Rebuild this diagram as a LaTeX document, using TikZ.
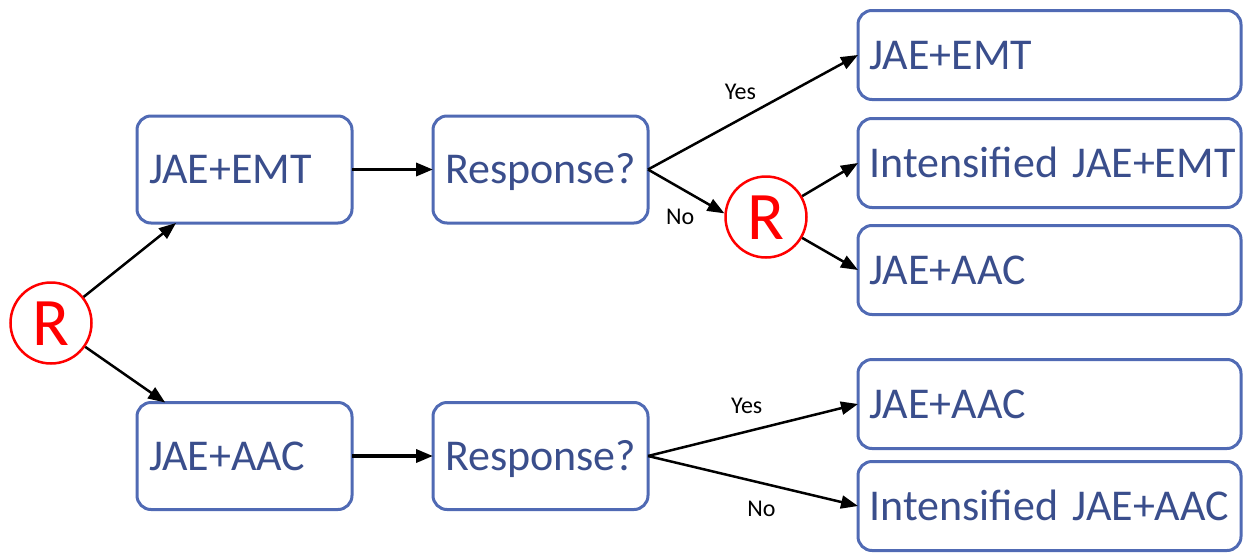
\documentclass[tikz,border=0pt]{standalone}
\usepackage{fontspec}
\setmainfont{Carlito}
\usetikzlibrary{arrows.meta,positioning}
\definecolor{boxline}{RGB}{80,106,180}
\definecolor{boxtext}{RGB}{58,78,140}
\definecolor{rand}{RGB}{255,0,0}
\hfuzz=12pt

\begin{document}
\begin{tikzpicture}[x=1pt, y=-1pt,
    arm/.style={draw=boxline, line width=3pt, rounded corners=14pt, outer sep=0pt, text=boxtext, font=\fontsize{44}{50}\selectfont, text height=28pt, text depth=0pt, inner ysep=0pt, align=left},
    stage/.style={arm, text width=191pt, inner xsep=12pt, minimum height=107pt},
    outcome/.style={arm, text width=360pt, inner xsep=11.5pt, minimum height=89pt},
    randomise/.style={circle, draw=rand, line width=2.5pt, text=rand, font=\fontsize{68}{76}\selectfont, minimum size=81pt, inner sep=0pt, text height=44pt, text depth=0pt},
    link/.style={draw, black, line width=2.5pt, -{Triangle[length=17pt,width=13pt]}},
    answer/.style={font=\fontsize{24}{28}\selectfont, inner sep=2pt}
  ]
  \useasboundingbox (0,0) rectangle (1243,552);
  \node [randomise] (r1) at (51,323) {R};
  \node [stage] (emt1) at (244.5,169.5) {JAE+EMT};
  \node [stage, right=81pt of emt1] (resp1) {Response?};
  \node [stage] (aac1) at (244.5,456) {JAE+AAC};
  \node [stage, right=81pt of aac1] (resp2) {Response?};
  \node [randomise] (r2) at (766,217) {R};
  \node [outcome] (emtyes) at (1049.5,55) {JAE+EMT};
  \node [outcome] (emtmore) at (1049.5,163) {Intensified~JAE+EMT};
  \node [outcome] (emtswitch) at (1049.5,270) {JAE+AAC};
  \node [outcome] (aacyes) at (1049.5,404) {JAE+AAC};
  \node [outcome] (aacmore) at (1049.5,506) {Intensified~JAE+AAC};

  \begin{scope}[every path/.style={link}]
  \path (r1) -- (emt1.218);
  \path (r1) -- (aac1.146);
  \path [line width=3.5pt] (emt1) -- (resp1);
  \path [line width=3.5pt] (aac1) -- (resp2);
  \path (resp1.east) -- (emtyes.west) node [answer, pos=.44, above=16pt] (yes1) {Yes};
  \path (resp1.east) -- (r2.175) node [answer, pos=.42, below=18pt] (no1) {No};
  \path (r2.30) -- (emtmore.west);
  \path (r2.-30) -- (emtswitch.west);
  \path (resp2.east) -- (aacyes.west) node [answer, pos=.47, above=15pt] (yes2) {Yes};
  \path (resp2.east) -- (aacmore.west) node [answer, pos=.54, below=15pt] (no2) {No};
  \end{scope}
\end{tikzpicture}
\end{document}
